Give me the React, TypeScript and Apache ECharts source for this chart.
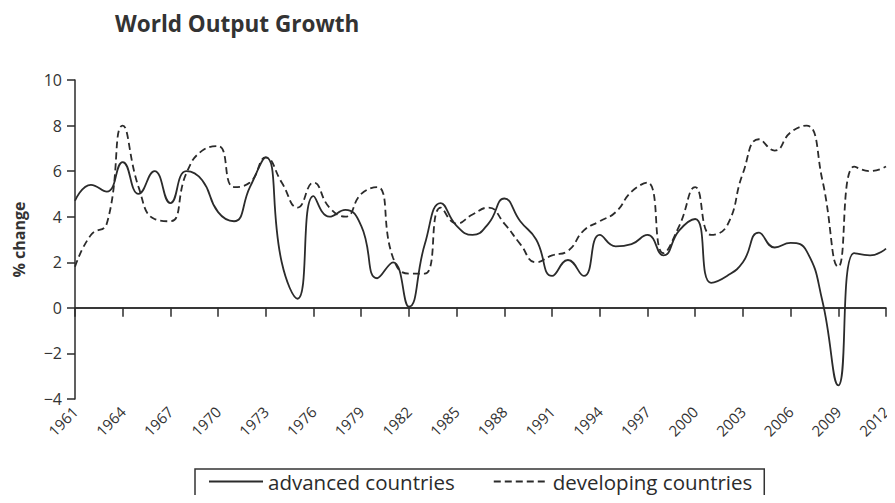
import React, { useEffect, useRef } from "react";
import * as echarts from "echarts";

const years = [
  "1961", "1962", "1963", "1964", "1965", "1966", "1967", "1968", "1969", "1970",
  "1971", "1972", "1973", "1974", "1975", "1976", "1977", "1978", "1979", "1980",
  "1981", "1982", "1983", "1984", "1985", "1986", "1987", "1988", "1989", "1990",
  "1991", "1992", "1993", "1994", "1995", "1996", "1997", "1998", "1999", "2000",
  "2001", "2002", "2003", "2004", "2005", "2006", "2007", "2008", "2009", "2010",
  "2011", "2012",
];

const advanced = [
  4.7, 5.4, 5.1, 6.4, 5.0, 6.0, 4.6, 6.0, 5.6, 4.2,
  3.8, 5.3, 6.6, 2.0, 0.4, 4.9, 4.0, 4.3, 3.6, 1.3,
  2.0, 0.05, 2.8, 4.6, 3.6, 3.2, 3.7, 4.8, 3.8, 3.0,
  1.4, 2.1, 1.4, 3.2, 2.7, 2.8, 3.2, 2.3, 3.4, 3.9,
  1.1, 1.4, 2.0, 3.3, 2.65, 2.85, 2.5, 0.3, -3.4, 2.4,
  2.3, 2.6,
];

const developing = [
  1.8, 3.2, 3.7, 8.0, 5.3, 3.9, 3.8, 5.9, 6.9, 7.1,
  5.3, 5.5, 6.6, 5.5, 4.4, 5.5, 4.4, 4.0, 5.0, 5.3,
  2.2, 1.5, 1.5, 4.4, 3.7, 4.1, 4.4, 3.7, 2.8, 2.0,
  2.3, 2.5, 3.4, 3.8, 4.2, 5.1, 5.5, 2.4, 3.6, 5.3,
  3.2, 3.6, 5.9, 7.4, 6.9, 7.7, 8.0, 5.6, 1.8, 6.2,
  6.0, 6.2,
];

const seriesNames = ["advanced countries", "developing countries"];

export default function App() {
  const ref = useRef<HTMLDivElement>(null);

  useEffect(() => {
    if (!ref.current) return;
    const chart = echarts.init(ref.current, undefined, { renderer: "svg" });
    const font = "'Open Sans', 'DejaVu Sans', sans-serif";
    const ink = "#2b2b2b";
    chart.setOption({
      animation: false,
      backgroundColor: "#ffffff",
      title: {
        text: "World Output Growth",
        left: 115,
        top: 12,
        padding: 0,
        textStyle: {
          fontFamily: font,
          fontSize: 22.5,
          fontWeight: "bold",
          color: "#333333",
        },
      },
      legend: {
        left: 195,
        top: 469,
        padding: [2, 12, 11, 13],
        itemGap: 38,
        itemWidth: 54,
        itemHeight: 14,
        borderColor: "#333333",
        borderWidth: 1.5,
        itemStyle: { opacity: 0 },
        textStyle: { fontFamily: font, fontSize: 20.5, color: ink },
        data: seriesNames,
      },
      grid: { left: 75, right: 9, top: 80, bottom: 104, containLabel: false },
      xAxis: {
        type: "category",
        data: years,
        boundaryGap: false,
        axisLine: { lineStyle: { color: ink, width: 1.5 } },
        axisTick: { show: true, interval: 2, length: 9, lineStyle: { color: ink, width: 1.5 } },
        axisLabel: {
          interval: 2,
          rotate: 45,
          margin: 10,
          fontFamily: font,
          fontSize: 15,
          color: "#333333",
        },
        splitLine: { show: false },
      },
      yAxis: {
        type: "value",
        min: -4,
        max: 10,
        interval: 2,
        name: "% change",
        nameLocation: "middle",
        nameGap: 48,
        nameTextStyle: { fontFamily: font, fontSize: 16, fontWeight: "bold", color: "#333333" },
        axisLine: { show: true, lineStyle: { color: ink, width: 1.5 } },
        axisTick: { show: true, length: 8, lineStyle: { color: ink, width: 1.5 } },
        axisLabel: {
          margin: 13,
          fontFamily: font,
          fontSize: 16,
          color: "#333333",
          formatter: (v: number) => String(v).replace("-", "\u2212"),
        },
        splitLine: { show: false },
      },
      series: [
        {
          name: seriesNames[0],
          type: "line",
          data: advanced,
          smooth: 0.5,
          symbol: "none",
          lineStyle: { color: ink, width: 1.8, type: "solid" },
          itemStyle: { color: ink },
          markLine: {
            silent: true,
            symbol: ["none", "none"],
            label: { show: false },
            lineStyle: { color: ink, width: 1.5, type: "solid" },
            data: [{ yAxis: 0 }],
          },
        },
        {
          name: seriesNames[1],
          type: "line",
          data: developing,
          smooth: 0.5,
          symbol: "none",
          lineStyle: { color: ink, width: 1.8, type: [7, 4] },
          itemStyle: { color: ink },
        },
      ],
    });
    return () => chart.dispose();
  }, []);

  return <div ref={ref} style={{ width: 895, height: 503, margin: -8 }} />;
}
